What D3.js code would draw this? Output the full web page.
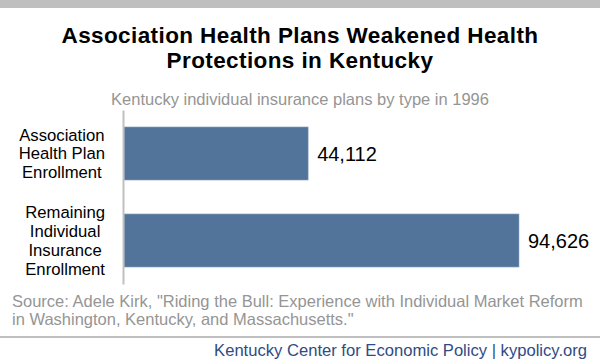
<!DOCTYPE html>
<html>
<head>
<meta charset="utf-8">
<script src="https://cdn.jsdelivr.net/npm/d3@7"></script>
<style>
  body { margin: 0; background: #fff; }
  svg { display: block; font-family: "Liberation Sans", Arial, sans-serif; }
</style>
</head>
<body>
<div id="chart-area"></div>
<script>
// data
const categories = ['Association Health Plan Enrollment', 'Remaining Individual Insurance Enrollment'];
const categoryLines = [
  ['Association', 'Health Plan', 'Enrollment'],
  ['Remaining', 'Individual', 'Insurance', 'Enrollment']
];
const enrollment = [44112, 94626];

const titleLines = ['Association Health Plans Weakened Health', 'Protections in Kentucky'];
const subtitle = 'Kentucky individual insurance plans by type in 1996';
const sourceLines = [
  'Source: Adele Kirk, "Riding the Bull: Experience with Individual Market Reform',
  'in Washington, Kentucky, and Massachusetts."'
];
const footer = 'Kentucky Center for Economic Policy | kypolicy.org';

const W = 600, H = 362;
const plot = { left: 124, right: 519, top: 110, bottom: 284 };

const svg = d3.select('#chart-area').append('svg')
  .attr('width', W)
  .attr('height', H);

// top grey band
svg.append('rect')
  .attr('x', 0).attr('y', 0)
  .attr('width', W).attr('height', 8)
  .attr('fill', '#bfbfbf');

// title
svg.append('g').selectAll('text')
  .data(titleLines)
  .join('text')
  .attr('x', W / 2)
  .attr('y', (d, i) => 43 + i * 25)
  .attr('text-anchor', 'middle')
  .attr('font-size', '22.5px')
  .attr('letter-spacing', '0.4px')
  .attr('font-weight', 'bold')
  .attr('fill', '#000')
  .text(d => d);

svg.append('text')
  .attr('x', W / 2)
  .attr('y', 105)
  .attr('text-anchor', 'middle')
  .attr('font-size', '16.5px')
  .attr('fill', '#959595')
  .text(subtitle);

// scales
const x = d3.scaleLinear()
  .domain([0, d3.max(enrollment)])
  .range([plot.left, plot.right]);

const y = d3.scaleBand()
  .domain(categories)
  .range([plot.top, plot.bottom])
  .paddingInner(0.39)
  .paddingOuter(0.195);

// bars
svg.selectAll('rect.bar')
  .data(enrollment)
  .join('rect')
  .attr('class', 'bar')
  .attr('x', x(0))
  .attr('y', (d, i) => y(categories[i]))
  .attr('width', d => x(d) - x(0))
  .attr('height', y.bandwidth())
  .attr('fill', '#52749a')
  .attr('stroke', '#8fa8c4')
  .attr('stroke-width', 0.6);

// value labels
svg.selectAll('text.value')
  .data(enrollment)
  .join('text')
  .attr('class', 'value')
  .attr('x', d => x(d) + 9)
  .attr('y', (d, i) => y(categories[i]) + y.bandwidth() / 2)
  .attr('dy', '0.35em')
  .attr('font-size', '20px')
  .attr('fill', '#000')
  .text(d => d3.format(',')(d));

// axis line (no ticks)
const yAxis = svg.append('g')
  .attr('transform', `translate(${plot.left - 1}, 0)`)
  .call(d3.axisLeft(y).tickSize(0).tickFormat(''));
yAxis.select('.domain')
  .attr('stroke', '#c0c0c0')
  .attr('stroke-width', 2);

// category labels, wrapped and centred as a block ending near x=105
const labelRight = 105;
categoryLines.forEach((lines, i) => {
  const cy = y(categories[i]) + y.bandwidth() / 2;
  const lh = 18.8;
  const g = svg.append('g');
  const texts = g.selectAll('text')
    .data(lines)
    .join('text')
    .attr('y', (d, j) => cy + (j - (lines.length - 1) / 2) * lh)
    .attr('dy', '0.35em')
    .attr('text-anchor', 'middle')
    .attr('font-size', '16.7px')
    .attr('fill', '#000')
    .text(d => d);
  let maxW = 0;
  texts.each(function() { maxW = Math.max(maxW, this.getComputedTextLength()); });
  texts.attr('x', labelRight - maxW / 2);
});

// source
svg.append('g').selectAll('text')
  .data(sourceLines)
  .join('text')
  .attr('x', 12)
  .attr('y', (d, i) => 307 + i * 18)
  .attr('font-size', '16.5px')
  .attr('fill', '#959595')
  .text(d => d);

// separator
svg.append('line')
  .attr('x1', 0).attr('x2', W)
  .attr('y1', 337).attr('y2', 337)
  .attr('stroke', '#bfbfbf')
  .attr('stroke-width', 2);

svg.append('text')
  .attr('x', 587)
  .attr('y', 356)
  .attr('text-anchor', 'end')
  .attr('font-size', '16.6px')
  .attr('fill', '#2f4b86')
  .text(footer);
</script>
</body>
</html>
